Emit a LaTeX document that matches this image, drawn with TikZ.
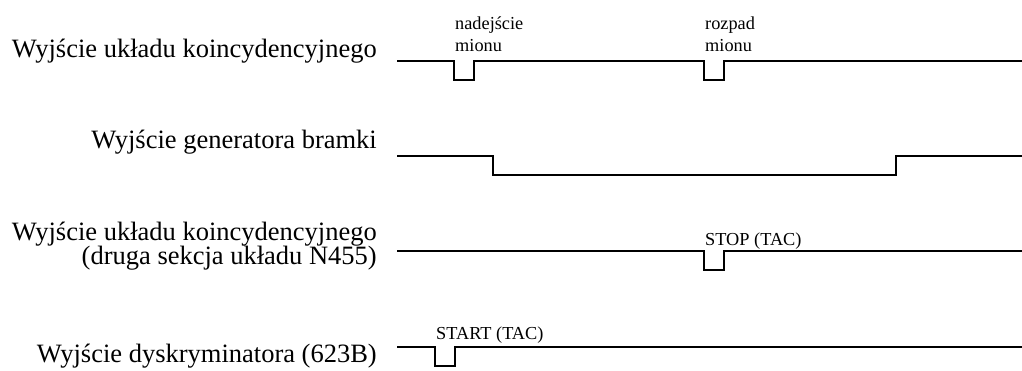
\documentclass[tikz,border=0pt]{standalone}
\usepackage{fontspec}
\setmainfont{Liberation Serif}
\begin{document}
\begin{tikzpicture}[x=1pt,y=-1pt,
  sig/.style={line width=1.8pt, line join=miter},
  biglab/.style={inner sep=0pt, font=\fontsize{26.5}{24}\selectfont, anchor=base east},
  smalllab/.style={inner sep=0pt, font=\fontsize{18.3}{22.4}\selectfont, anchor=base west}]
\useasboundingbox (0,0) rectangle (1022,370);

% labels on the left
\node[biglab] (l1) at (377,57) {Wyjście układu koincydencyjnego};
\node[biglab] (l2) at (377,148) {Wyjście generatora bramki};
\node[biglab] (l3a) at (377,240) {Wyjście układu koincydencyjnego};
\node[biglab] (l3b) at (377,264) {(druga sekcja układu N455)};
\node[biglab] (l4) at (377,362) {Wyjście dyskryminatora (623B)};

% small labels
\node[smalllab] (n1a) at (455,29.3) {nadejście};
\node[smalllab] (n1b) at (455,51.7) {mionu};
\node[smalllab] (n2a) at (705,29.3) {rozpad};
\node[smalllab] (n2b) at (705,51.7) {mionu};
\node[smalllab] (stop) at (705,245) {STOP (TAC)};
\node[smalllab] (start) at (436,339.3) {START (TAC)};

% signal start points
\coordinate (s1) at (397,60.7);
\coordinate (s2) at (397,156);
\coordinate (s3) at (397,250.7);
\coordinate (s4) at (397,346.7);

% signals
\draw[sig] (s1) -- ++(57,0) -- ++(0,19) -- ++(20,0) -- ++(0,-19) -- ++(230,0) -- ++(0,19) -- ++(20,0) -- ++(0,-19) -- ++(298,0);
\draw[sig] (s2) -- ++(96,0) -- ++(0,19) -- ++(403,0) -- ++(0,-19) -- ++(126,0);
\draw[sig] (s3) -- ++(307,0) -- ++(0,19) -- ++(20,0) -- ++(0,-19) -- ++(298,0);
\draw[sig] (s4) -- ++(38,0) -- ++(0,19) -- ++(20,0) -- ++(0,-19) -- ++(567,0);
\end{tikzpicture}
\end{document}
